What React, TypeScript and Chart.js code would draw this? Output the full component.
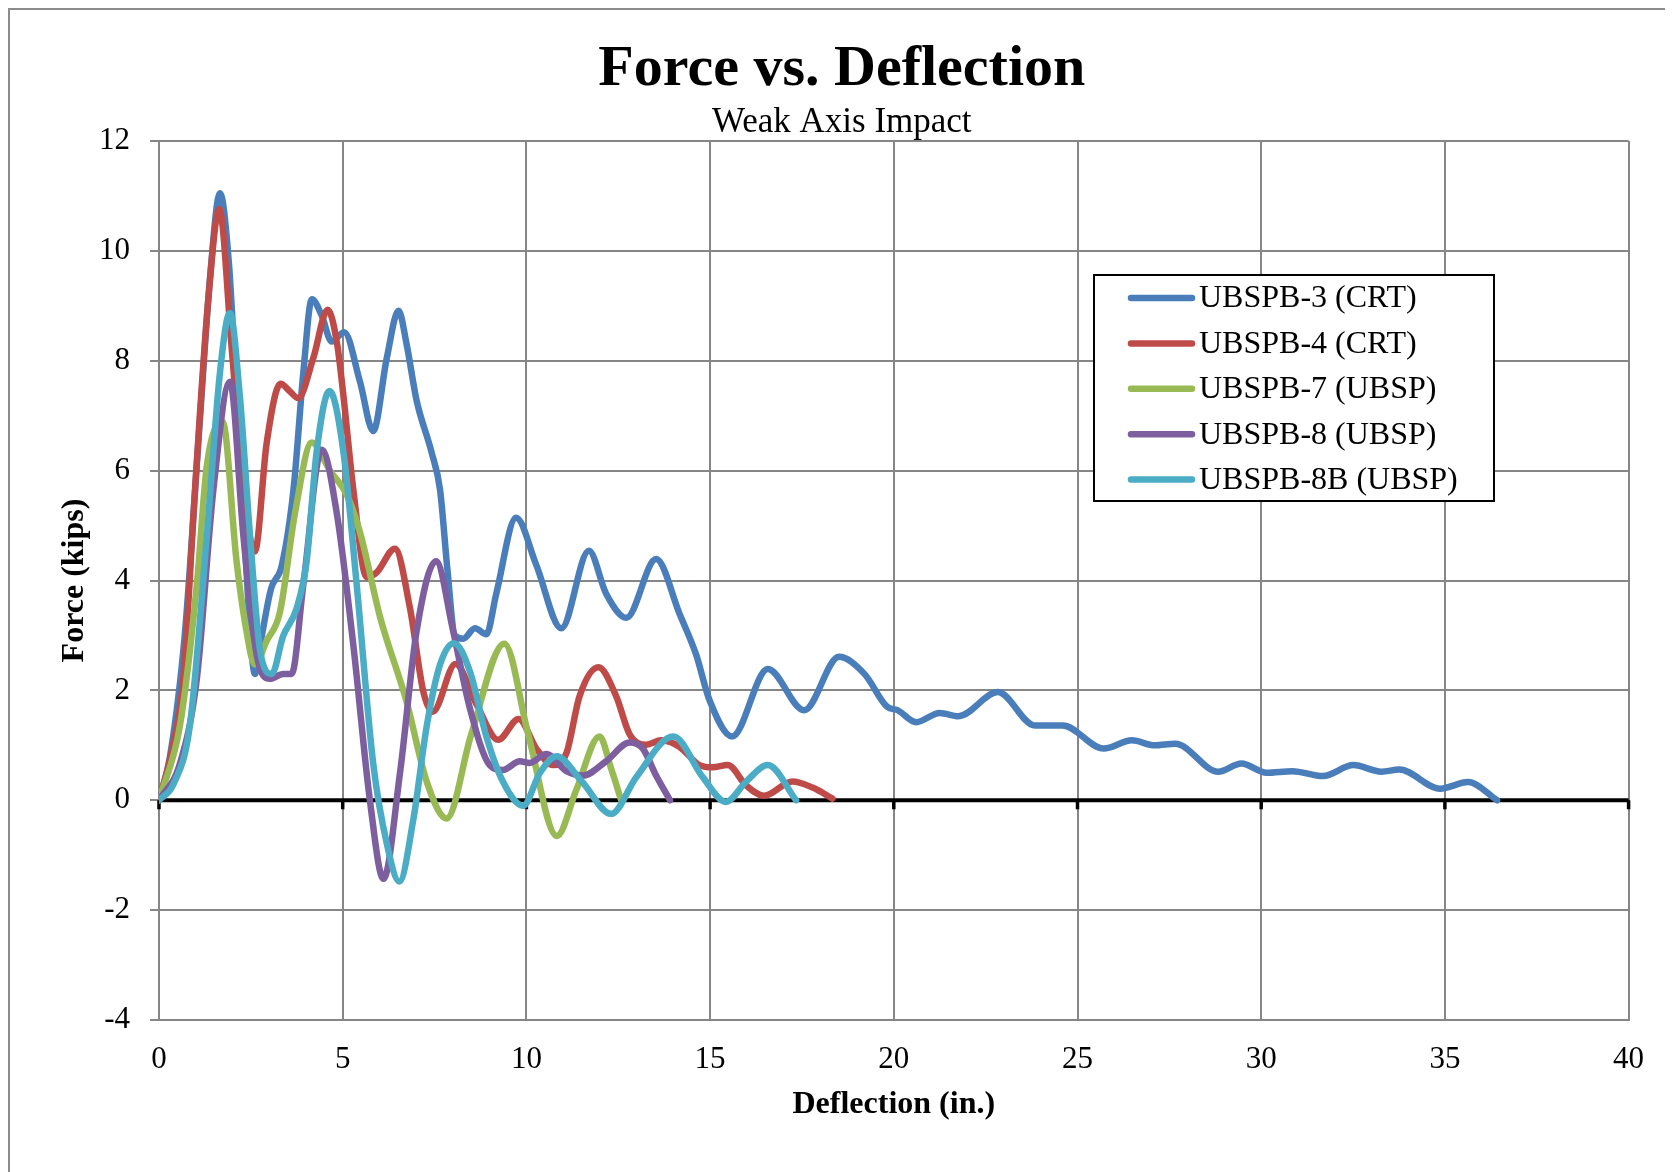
import React, { useEffect, useRef } from 'react';
import { Chart, registerables } from 'chart.js';

Chart.register(...registerables);

const FONT = '"Liberation Serif", "Times New Roman", serif';

const seriesLabels = ['UBSPB-3 (CRT)', 'UBSPB-4 (CRT)', 'UBSPB-7 (UBSP)', 'UBSPB-8 (UBSP)', 'UBSPB-8B (UBSP)'];
const seriesColors = ['#4A7EBB', '#BE4B48', '#98B954', '#7D5FA0', '#4BACC6'];

const b3X = [0, 0.3, 0.7, 1.1, 1.4, 1.66, 1.9, 2.1, 2.35, 2.61, 2.8, 3.05, 3.34, 3.66, 3.93, 4.16, 4.43, 4.7, 5.04, 5.47, 5.83, 6.2, 6.52, 6.74, 7.01, 7.42, 7.65, 7.85, 8.05, 8.28, 8.6, 8.91, 9.18, 9.72, 10.27, 10.95, 11.7, 12.17, 12.72, 13.53, 14.17, 14.62, 14.98, 15.6, 16.57, 17.56, 18.51, 19.2, 19.82, 20.1, 20.61, 21.25, 21.76, 22.83, 23.84, 24.6, 25.71, 26.48, 27.1, 27.66, 28.83, 29.46, 30.15, 30.85, 31.68, 32.51, 33.27, 33.76, 34.87, 35.63, 36.42];
const b3Y = [0, 0.8, 3.0, 6.8, 9.6, 11.05, 9.8, 7.5, 4.5, 2.3, 3.0, 3.85, 4.27, 5.65, 7.8, 9.12, 8.82, 8.35, 8.52, 7.62, 6.72, 8.05, 8.91, 8.3, 7.28, 6.33, 5.65, 4.2, 3.0, 2.94, 3.13, 3.02, 3.76, 5.14, 4.28, 3.13, 4.54, 3.76, 3.32, 4.39, 3.39, 2.65, 1.83, 1.16, 2.39, 1.64, 2.61, 2.3, 1.7, 1.64, 1.42, 1.59, 1.53, 1.97, 1.36, 1.36, 0.94, 1.09, 1.0, 1.03, 0.52, 0.67, 0.5, 0.53, 0.44, 0.64, 0.52, 0.56, 0.21, 0.33, 0];

const b4X = [0, 0.35, 0.66, 0.98, 1.34, 1.64, 1.98, 2.3, 2.61, 2.93, 3.31, 3.55, 3.79, 4.2, 4.59, 4.85, 5.02, 5.29, 5.65, 5.93, 6.42, 6.83, 7.2, 7.45, 8.07, 8.64, 9.23, 9.79, 10.27, 10.72, 11.09, 11.45, 11.96, 12.44, 12.81, 13.26, 13.67, 14.17, 14.71, 15.07, 15.48, 15.98, 16.47, 17.24, 17.79, 18.33];
const b4Y = [0, 0.9, 2.2, 5.65, 9.1, 10.76, 8.22, 5.65, 4.53, 6.5, 7.58, 7.45, 7.32, 8.05, 8.93, 8.3, 7.36, 5.65, 4.06, 4.15, 4.58, 3.5, 1.96, 1.61, 2.48, 1.75, 1.1, 1.48, 0.94, 0.64, 0.86, 1.9, 2.42, 1.9, 1.2, 1.01, 1.09, 0.97, 0.64, 0.6, 0.64, 0.27, 0.08, 0.34, 0.23, 0.03];

const b7X = [0, 0.57, 1.03, 1.3, 1.73, 2.11, 2.35, 2.61, 2.93, 3.29, 3.7, 4.16, 4.66, 5.11, 5.47, 6.02, 6.74, 7.29, 7.83, 8.5, 9.4, 10.05, 10.83, 11.36, 11.99, 12.31, 12.58];
const b7Y = [0, 1.36, 3.93, 6.08, 6.89, 4.36, 3.2, 2.47, 2.9, 3.42, 5.22, 6.51, 5.99, 5.56, 4.88, 3.33, 1.79, 0.33, -0.33, 1.2, 2.85, 1.2, -0.65, 0.19, 1.16, 0.57, 0];

const b8X = [0, 0.57, 1.03, 1.48, 1.93, 2.3, 2.66, 3.02, 3.38, 3.61, 3.93, 4.43, 4.84, 5.29, 5.74, 6.11, 6.56, 7.01, 7.54, 8.0, 8.46, 9.0, 9.36, 9.82, 10.09, 10.54, 11.09, 11.54, 12.17, 12.81, 13.17, 13.53, 13.91];
const b8Y = [0, 0.67, 2.21, 5.65, 7.62, 4.79, 2.64, 2.21, 2.3, 2.3, 3.93, 6.38, 5.22, 2.82, 0, -1.43, 0.5, 3.07, 4.35, 3.1, 1.68, 0.64, 0.55, 0.71, 0.68, 0.84, 0.53, 0.45, 0.71, 1.05, 0.94, 0.45, 0];

const b8bX = [0, 0.4, 0.84, 1.3, 1.66, 1.93, 2.2, 2.48, 2.75, 3.07, 3.38, 3.75, 4.02, 4.29, 4.64, 5.02, 5.38, 5.83, 6.2, 6.54, 6.92, 7.29, 7.65, 8.03, 8.46, 8.91, 9.36, 9.91, 10.37, 10.82, 11.5, 12.31, 12.99, 14.0, 14.8, 15.43, 15.98, 16.57, 17.34];
const b8bY = [0, 0.3, 1.36, 4.79, 7.79, 8.87, 7.36, 4.79, 2.73, 2.3, 2.99, 3.5, 4.36, 6.34, 7.45, 6.34, 3.93, 0.67, -0.79, -1.48, -0.36, 1.36, 2.47, 2.86, 2.35, 1.16, 0.34, -0.1, 0.5, 0.8, 0.35, -0.25, 0.42, 1.16, 0.42, -0.03, 0.34, 0.64, 0];

const xTickMin = 0;
const xTickMax = 40;
const xTickStep = 5;
const yTickMin = -4;
const yTickMax = 12;
const yTickStep = 2;

const seriesX = [b3X, b4X, b7X, b8X, b8bX];
const seriesY = [b3Y, b4Y, b7Y, b8Y, b8bY];

const boxLegendPlugin = {
  id: 'boxLegend',
  afterDraw(chart: any) {
    const ctx = chart.ctx;
    const bx = 1084, by = 265, bw = 400, bh = 226;
    ctx.save();
    ctx.fillStyle = '#ffffff';
    ctx.fillRect(bx, by, bw, bh);
    ctx.strokeStyle = '#000000';
    ctx.lineWidth = 2;
    ctx.strokeRect(bx, by, bw, bh);
    ctx.font = `32px ${FONT}`;
    ctx.textBaseline = 'middle';
    ctx.textAlign = 'left';
    chart.data.datasets.forEach((ds: any, i: number) => {
      const y = by + 23 + i * 45.4;
      ctx.strokeStyle = ds.borderColor;
      ctx.lineWidth = 6.5;
      ctx.lineCap = 'round';
      ctx.beginPath();
      ctx.moveTo(bx + 37, y);
      ctx.lineTo(bx + 98, y);
      ctx.stroke();
      ctx.fillStyle = '#000000';
      ctx.fillText(ds.label, bx + 105, y + 1);
    });
    ctx.restore();
  },
};

const zeroTickPlugin = {
  id: 'zeroTicks',
  beforeDatasetsDraw(chart: any) {
    const ctx = chart.ctx;
    const xs = chart.scales.x;
    const ys = chart.scales.y;
    const y0 = ys.getPixelForValue(0);
    ctx.save();
    ctx.strokeStyle = '#000000';
    ctx.lineWidth = 3.5;
    ctx.beginPath();
    for (let v = xTickMin; v <= xTickMax; v += xTickStep) {
      const px = xs.getPixelForValue(v);
      ctx.moveTo(px, y0);
      ctx.lineTo(px, y0 + 9);
    }
    ctx.stroke();
    ctx.lineWidth = 4;
    ctx.beginPath();
    ctx.moveTo(xs.left, y0);
    ctx.lineTo(xs.right, y0);
    ctx.stroke();
    ctx.restore();
  },
};

export default function App() {
  const canvasRef = useRef<HTMLCanvasElement | null>(null);

  useEffect(() => {
    document.documentElement.style.overflow = 'hidden';
    document.body.style.overflow = 'hidden';
    if (!canvasRef.current) return;
    const datasets = seriesLabels.map((label, i) => ({
      label,
      data: seriesX[i].map((x, j) => ({ x, y: seriesY[i][j] })),
      borderColor: seriesColors[i],
      backgroundColor: seriesColors[i],
      borderWidth: 6.5,
      pointRadius: 0,
      fill: false,
      cubicInterpolationMode: 'monotone' as const,
      borderCapStyle: 'round' as const,
      borderJoinStyle: 'round' as const,
      order: seriesLabels.length - i,
    }));

    const chart = new Chart(canvasRef.current, {
      type: 'line',
      data: { datasets },
      plugins: [zeroTickPlugin, boxLegendPlugin],
      options: {
        responsive: false,
        animation: false,
        events: [],
        layout: { padding: { left: 45, right: 49.4, top: 0, bottom: 0 } },
        plugins: {
          legend: { display: false },
          tooltip: { enabled: false },
          title: {
            display: true,
            text: 'Force vs. Deflection',
            color: '#000',
            font: { family: FONT, size: 58, weight: 'bold', lineHeight: 1 },
            padding: { top: 31, bottom: 0 },
          },
          subtitle: {
            display: true,
            text: 'Weak Axis Impact',
            color: '#000',
            font: { family: FONT, size: 35, weight: 'normal', lineHeight: 1 },
            padding: { top: 6, bottom: 1 },
          },
        },
        scales: {
          x: {
            type: 'linear',
            min: xTickMin,
            max: xTickMax,
            ticks: {
              stepSize: xTickStep,
              color: '#000',
              font: { family: FONT, size: 31 },
              padding: 21,
              maxRotation: 0,
            },
            grid: { color: '#868686', lineWidth: 2, drawTicks: false },
            border: { color: '#868686', width: 2 },
            title: {
              display: true,
              text: 'Deflection (in.)',
              color: '#000',
              font: { family: FONT, size: 32, weight: 'bold', lineHeight: 1.2 },
              padding: { top: 0, bottom: 48 },
            },
            afterFit: (s: any) => { s.height = 152; },
          },
          y: {
            type: 'linear',
            min: yTickMin,
            max: yTickMax,
            ticks: {
              stepSize: yTickStep,
              color: '#000',
              font: { family: FONT, size: 31 },
              padding: 20,
            },
            grid: {
              color: '#868686',
              lineWidth: 2,
              drawTicks: true,
              tickLength: 9,
              tickColor: '#868686',
            },
            border: { color: '#868686', width: 2 },
            title: {
              display: true,
              text: 'Force (kips)',
              color: '#000',
              font: { family: FONT, size: 32, weight: 'bold', lineHeight: 1 },
              padding: { top: 4, bottom: 0 },
            },
            afterFit: (s: any) => { s.width = 104; },
          },
        },
      } as any,
    });
    return () => chart.destroy();
  }, []);

  return (
    <div
      style={{
        width: 1663,
        height: 1162,
        overflow: 'hidden',
        borderTop: '2px solid #8c8c8c',
        borderLeft: '2px solid #8c8c8c',
        background: '#fff',
      }}
    >
      <canvas ref={canvasRef} width={1668} height={1162} style={{ display: 'block', width: 1668, height: 1162 }} />
    </div>
  );
}
